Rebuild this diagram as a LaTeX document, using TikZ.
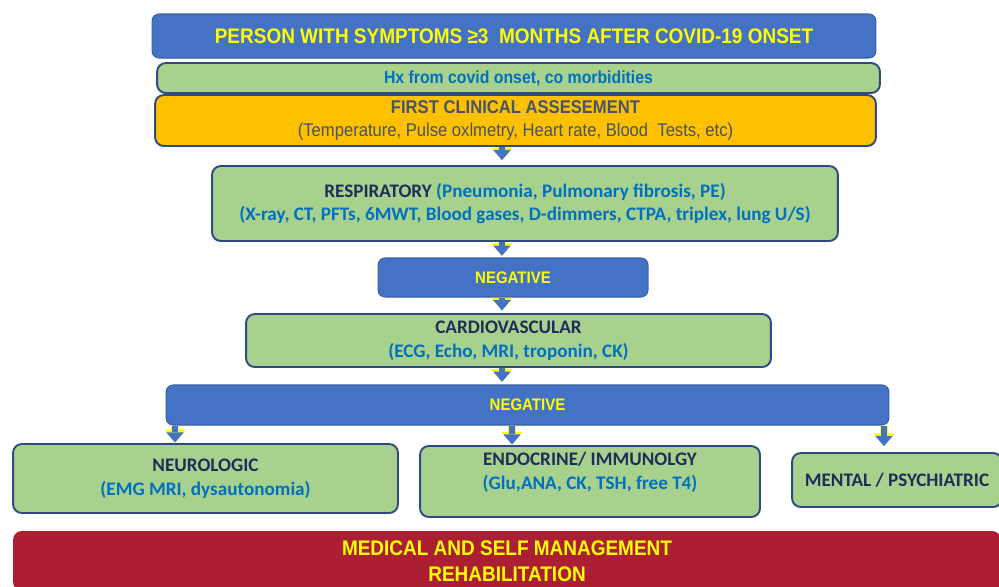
\documentclass[tikz,border=0pt]{standalone}
\usepackage{fontspec}
\usepackage{tikz}
\usetikzlibrary{arrows.meta, positioning}
\newfontfamily\narrowfont[FakeStretch=0.9]{Liberation Sans}
\newfontfamily\calfont{Carlito}
\definecolor{boxblue}{RGB}{68,114,196}
\definecolor{boxgreen}{RGB}{169,209,142}
\definecolor{boxorange}{RGB}{255,192,0}
\definecolor{boxred}{RGB}{172,30,50}
\definecolor{edgec}{RGB}{47,74,130}
\definecolor{navyc}{RGB}{31,45,90}
\definecolor{textblue}{RGB}{0,112,192}
\definecolor{grayc}{RGB}{68,84,106}
\definecolor{yellowc}{RGB}{255,255,0}

\begin{document}
\begin{tikzpicture}[x=0.02cm, y=-0.02cm,
  bluebox/.style={rectangle, rounded corners=4pt, fill=boxblue, draw=boxblue!85!black, line width=0.6pt, text=yellowc, inner sep=0pt, align=center},
  greenbox/.style={rectangle, rounded corners=5pt, fill=boxgreen, draw=edgec, line width=1.1pt, inner sep=0pt, align=center},
  calib/.style={font=\calfont\bfseries\fontsize{10.9}{13.6}\selectfont},
  narrowbf/.style={font=\narrowfont\bfseries\fontsize{#1}{14}\selectfont},
  flowarrow/.style={draw=boxblue, line width=3.6pt, shorten >=0.3pt,
    -{Triangle[width=10pt, length=5.8pt, line width=0pt]},
    preaction={draw=yellowc, line width=5pt, -{Triangle[width=12pt, length=7.2pt, line width=0pt]}}}]
  \useasboundingbox (0,0) rectangle (999,586);
  % top of the chart
  \node[bluebox, narrowbf=12, minimum width=14.48cm, minimum height=0.88cm] (person) at (514,36) {PERSON WITH SYMPTOMS ≥3~~MONTHS AFTER COVID-19 ONSET};
  \node[greenbox, narrowbf=10, text=textblue, minimum width=14.46cm, minimum height=0.6cm] (hx) at (518.5,78) {Hx from covid onset, co morbidities};
  \node[greenbox, fill=boxorange, text=grayc, font=\narrowfont\fontsize{10.5}{13}\selectfont, minimum width=14.42cm, minimum height=1.02cm] (first) at (515.5,120.5) {{\bfseries FIRST CLINICAL ASSESEMENT}\\(Temperature, Pulse oxlmetry, Heart rate, Blood~~Tests, etc)};
  % respiratory and cardiac work-up
  \node[greenbox, calib, text=textblue, minimum width=12.52cm, minimum height=1.5cm] (resp) at (525,203.5) {{\color{navyc}RESPIRATORY} (Pneumonia, Pulmonary fibrosis, PE)\\(X-ray, CT, PFTs, 6MWT, Blood gases, D-dimmers, CTPA, triplex, lung U/S)};
  \node[bluebox, narrowbf=9.5, minimum width=5.4cm, minimum height=0.78cm] (neg1) at (513,277.5) {NEGATIVE};
  \node[greenbox, calib, text=textblue, minimum width=10.5cm, minimum height=1.06cm] (cardio) at (508.5,340.5) {{\color{navyc}CARDIOVASCULAR}\\(ECG, Echo, MRI, troponin, CK)};
  \node[bluebox, narrowbf=9.5, minimum width=14.46cm, minimum height=0.8cm] (neg2) at (527.5,405) {NEGATIVE};
  % three branches
  \node[greenbox, calib, text=textblue, minimum width=7.7cm, minimum height=1.38cm] (neuro) at (205.5,478.5) {{\color{navyc}NEUROLOGIC}\\(EMG MRI, dysautonomia)};
  \node[greenbox, minimum width=6.8cm, minimum height=1.42cm] (endo) at (590,481.5) {};
  \node[calib, text=textblue, align=center, inner sep=0pt] (endotext) at (590,472.5) {{\color{navyc}ENDOCRINE/ IMMUNOLGY}\\(Glu,ANA, CK, TSH, free T4)};
  \node[greenbox, calib, text=navyc, minimum width=4.2cm, minimum height=1.08cm] (mental) at (897,480) {MENTAL / PSYCHIATRIC};
  % bottom
  \node[rectangle, rounded corners=5pt, fill=boxred, text=yellowc, align=center, narrowbf=12, minimum width=19.76cm, minimum height=1.2cm] (manage) at (507,561) {MEDICAL AND SELF MANAGEMENT\\[1pt]REHABILITATION};
  % arrows
  \coordinate (c1) at (502,0);
  \coordinate (c2) at (175,0);
  \coordinate (c3) at (512,0);
  \coordinate (c4) at (884,0);
  \draw[flowarrow, shorten >=2.8pt] (first.south -| c1) -- (resp.north -| c1);
  \draw[flowarrow, shorten >=1pt] (resp.south -| c1) -- (neg1.north -| c1);
  \draw[flowarrow, shorten >=1.5pt] (neg1.south -| c1) -- (cardio.north -| c1);
  \draw[flowarrow, shorten >=1.5pt] (cardio.south -| c1) -- (neg2.north -| c1);
  \draw[flowarrow] (neg2.south -| c2) -- (neuro.north -| c2);
  \draw[flowarrow] (neg2.south -| c3) -- (endo.north -| c3);
  \draw[flowarrow, shorten >=3.4pt] (neg2.south -| c4) -- (mental.north -| c4);
\end{tikzpicture}
\end{document}
